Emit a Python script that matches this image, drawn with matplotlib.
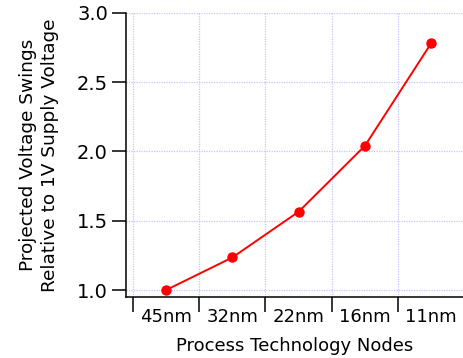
import matplotlib
matplotlib.use("Agg")
import matplotlib.pyplot as plt
import numpy as np

# ── data ──────────────────────────────────────────────────────────────────────
nodes = ["45nm", "32nm", "22nm", "16nm", "11nm"]
swing = [1.00, 1.235, 1.565, 2.04, 2.78]
y_ticks = [1.0, 1.5, 2.0, 2.5, 3.0]

fig = plt.figure(figsize=(4.63, 3.58), dpi=100)
ax = fig.add_axes([0.2721, 0.1704, 0.7279, 0.7941])

x = np.arange(len(nodes))
ax.plot(x, swing, color="#ff0000", lw=1.4, marker="o", ms=6.5, zorder=3)

ax.set_xlim(-0.605, 4.48)
ax.set_ylim(0.95, 3.0)

# boundary ticks (major) carry the grid, centered minor ticks carry the labels
ax.set_xticks(np.arange(len(nodes)) - 0.5)
ax.set_xticklabels([])
ax.set_xticks(x, minor=True)
ax.set_xticklabels(nodes, minor=True, fontsize=13)
ax.tick_params(axis="x", which="major", direction="out", length=10.5, width=1.1)
ax.tick_params(axis="x", which="minor", length=0, pad=8)

ax.set_yticks(y_ticks)
ax.set_yticklabels([f"{v:.1f}" for v in y_ticks], fontsize=14)
ax.tick_params(axis="y", direction="out", length=10, width=1.1, pad=3)

ax.grid(True, which="major", color="#c4c4ff", lw=0.9, ls=(0, (1, 1)))
ax.set_axisbelow(True)

for s in ["top", "right"]:
    ax.spines[s].set_visible(False)
for s in ["left", "bottom"]:
    ax.spines[s].set_linewidth(1.1)

ax.set_xlabel("Process Technology Nodes", fontsize=13, labelpad=8)
ax.set_ylabel("Projected Voltage Swings\nRelative to 1V Supply Voltage",
              fontsize=13.3, labelpad=13, linespacing=1.3)

fig.savefig("out.png", dpi=100)
